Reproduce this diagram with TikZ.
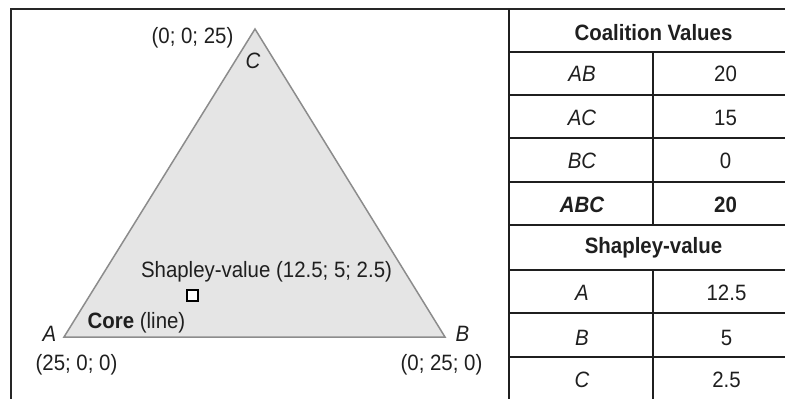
\documentclass[tikz,border=0pt]{standalone}
\usepackage{fontspec}
\setmainfont[FakeStretch=0.92]{Liberation Sans}
\begin{document}
\begin{tikzpicture}[x=1pt,y=-1pt,
  txt/.style={inner sep=0pt,outer sep=0pt,anchor=base,text=black!88,font=\fontsize{22.2}{26}\selectfont},
  frameline/.style={draw=black!85,line width=1.8pt},
  tabline/.style={draw=black!88,line width=2.2pt},
  tri/.style={draw=black!45,fill=black!10,line width=1.5pt,line join=miter}]
\useasboundingbox (0,0) rectangle (785,399);
% frame
\draw[frameline] (11,399) -- (11,9) -- (785,9);
% triangle
\coordinate (A) at (64,337);
\coordinate (B) at (445,337);
\coordinate (C) at (255,29);
\draw[tri] (A) -- (B) -- (C) -- cycle;
% labels in triangle
\node[txt] (cc) at (192.5,43.5) {(0; 0; 25)};
\node[txt] (cl) at (253,68) {\itshape C};
\node[txt] (sv) at (266.5,277) {Shapley-value (12.5; 5; 2.5)};
\node[draw=black,line width=1.6pt,fill=white,minimum size=11pt,inner sep=0pt] (sq) at (192.5,295.5) {};
\node[txt] (core) at (136.5,328) {\bfseries Core \mdseries(line)};
\node[txt] (al) at (49.5,341.5) {\itshape A};
\node[txt] (bl) at (462.5,341.5) {\itshape B};
\node[txt] (ac) at (76.5,370) {(25; 0; 0)};
\node[txt] (bc) at (441.5,370) {(0; 25; 0)};
% table lines
\draw[tabline] (509,9) -- (509,399);
\foreach \yy in {52,95,138,182,225,270,313,357} \draw[tabline] (509,\yy) -- (785,\yy);
\draw[tabline] (653,52) -- (653,225);
\draw[tabline] (653,270) -- (653,399);
% table text
\node[txt] (h1) at (653.5,40) {\bfseries Coalition Values};
\node[txt] (r1a) at (582,81.7) {\itshape AB};
\node[txt] (r1b) at (725.5,81.7) {20};
\node[txt] (r2a) at (582,125) {\itshape AC};
\node[txt] (r2b) at (725.5,125) {15};
\node[txt] (r3a) at (582,168) {\itshape BC};
\node[txt] (r3b) at (725.5,168) {0};
\node[txt] (r4a) at (582,212) {\bfseries\itshape ABC};
\node[txt] (r4b) at (725.5,212) {\bfseries 20};
\node[txt] (h2) at (653.5,253) {\bfseries Shapley-value};
\node[txt] (s1a) at (582,300) {\itshape A};
\node[txt] (s1b) at (726.5,300) {12.5};
\node[txt] (s2a) at (582,345) {\itshape B};
\node[txt] (s2b) at (726.5,345) {5};
\node[txt] (s3a) at (582,387) {\itshape C};
\node[txt] (s3b) at (726.5,387) {2.5};
\end{tikzpicture}
\end{document}
